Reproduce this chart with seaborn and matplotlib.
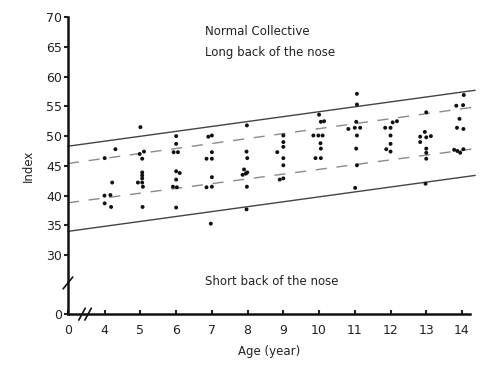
import numpy as np
import pandas as pd
import seaborn as sns
import matplotlib.pyplot as plt

# ---------------------------------------------------------------------------
# data (age in years, index value)
age = [4.30, 4.00, 4.21, 3.98, 4.16, 4.00, 4.18,
       5.00, 5.10, 4.98, 5.05, 5.05, 5.05, 5.05, 4.93, 5.05, 5.07, 5.06,
       6.00, 6.00, 5.93, 6.05, 6.00, 6.10, 6.00, 5.91, 6.02, 6.00,
       6.90, 7.00, 7.00, 6.85, 7.00, 7.00, 6.85, 7.00, 6.97,
       7.98, 7.97, 7.99, 7.90, 7.99, 7.86, 7.95, 7.98, 7.97,
       9.00, 9.00, 9.00, 8.83, 9.00, 9.00, 8.90, 9.00,
       10.00, 10.05, 10.14, 9.84, 9.98, 10.10, 10.04, 10.05, 9.90, 10.05,
       11.06, 11.06, 11.04, 10.82, 11.00, 11.15, 11.06, 11.04, 11.06, 11.01,
       12.18, 12.06, 11.85, 12.00, 12.00, 12.00, 11.88, 12.00,
       13.00, 12.96, 12.83, 13.00, 13.13, 12.83, 13.00, 13.00, 13.00, 12.98,
       14.05, 13.84, 14.03, 13.93, 13.86, 14.04, 13.78, 13.87, 13.95, 14.04]
index = [47.8, 46.3, 42.2, 40.0, 40.1, 38.7, 38.1,
         51.5, 47.4, 47.0, 46.2, 43.9, 43.4, 42.9, 42.2, 42.2, 41.5, 38.1,
         50.0, 48.7, 47.3, 47.3, 44.1, 43.8, 42.7, 41.5, 41.4, 38.0,
         49.9, 50.1, 47.3, 46.2, 46.2, 43.1, 41.4, 41.5, 35.3,
         51.8, 47.4, 46.3, 44.4, 43.9, 43.5, 43.7, 41.5, 37.7,
         50.1, 49.0, 48.2, 47.3, 46.3, 45.1, 42.7, 42.9,
         53.6, 52.4, 52.5, 50.1, 50.1, 50.1, 48.8, 47.9, 46.3, 46.3,
         57.1, 55.3, 52.4, 51.2, 51.4, 51.4, 50.1, 47.9, 45.1, 41.3,
         52.5, 52.3, 51.4, 51.4, 50.1, 48.7, 47.8, 47.4,
         54.0, 50.7, 49.9, 49.8, 50.0, 49.0, 47.9, 47.2, 46.2, 42.0,
         56.9, 55.1, 55.2, 52.9, 51.4, 51.2, 47.7, 47.5, 47.2, 47.8]

# boundary lines: value at the y axis and at the right end
line_x = [0, 14.37]
upper_solid = [48.3, 57.7]
upper_dashed = [45.4, 54.9]
lower_dashed = [38.8, 47.9]
lower_solid = [34.0, 43.4]

x_ticks = [0, 4, 5, 6, 7, 8, 9, 10, 11, 12, 13, 14]
y_ticks = [0, 30, 35, 40, 45, 50, 55, 60, 65, 70]

df = pd.DataFrame({"age": age, "index": index})


# ---------------------------------------------------------------------------
# broken axes: 0-4 years and 0-30 index are squeezed together
def x_fwd(x):
    x = np.asarray(x, dtype=float)
    return np.where(x >= 4, x, 4 - (4 - x) * 0.257)


def x_inv(v):
    v = np.asarray(v, dtype=float)
    return np.where(v >= 4, v, 4 - (4 - v) / 0.257)


def y_fwd(y):
    y = np.asarray(y, dtype=float)
    return np.where(y >= 30, y, 30 - (30 - y) * 0.33)


def y_inv(v):
    v = np.asarray(v, dtype=float)
    return np.where(v >= 30, v, 30 - (30 - v) / 0.33)


sns.set_style("ticks")
plt.rcParams['font.family'] = ['DejaVu Sans']

fig = plt.figure(figsize=(4.96, 3.70), dpi=100)
ax = fig.add_axes([0.137, 0.151, 0.811, 0.803])
ax.set_xscale("function", functions=(x_fwd, x_inv))
ax.set_yscale("function", functions=(y_fwd, y_inv))

# boundary lines
for vals, style, col in [(upper_solid, "-", "#444444"), (lower_solid, "-", "#444444"),
                         (upper_dashed, "--", "#8a8a8a"), (lower_dashed, "--", "#8a8a8a")]:
    sns.lineplot(x=line_x, y=vals, ax=ax, color=col, linewidth=1.0, linestyle=style)
for ln in ax.lines:
    ln.set_clip_on(False)
    if ln.get_linestyle() == "--":
        ln.set_dashes((8, 7))

# measurements
sns.scatterplot(data=df, x="age", y="index", ax=ax, color="#111111", s=8,
                edgecolor="none", zorder=3)

ax.set_xlim(0, 14.23)
ax.set_ylim(0, 70)
ax.set_xticks(x_ticks)
ax.set_xticklabels([str(t) for t in x_ticks])
ax.set_yticks(y_ticks)
ax.set_yticklabels([str(t) for t in y_ticks])
ax.minorticks_off()

sns.despine(ax=ax)
for side in ["left", "bottom"]:
    ax.spines[side].set_linewidth(1.8)
    ax.spines[side].set_color("#111111")
ax.tick_params(axis="y", direction="out", length=3, width=1.5, labelsize=9,
               colors="#222222", pad=1)
ax.tick_params(axis="x", direction="in", length=3, width=1.5, labelsize=9,
               colors="#222222", pad=7)

ax.set_xlabel("Age (year)", fontsize=8.5, color="#222222", labelpad=6)
ax.set_ylabel("Index", fontsize=8.5, color="#222222", labelpad=8)

# texts in the chart
ax.text(0.34, 0.952, "Normal Collective", transform=ax.transAxes, fontsize=8.5,
        color="#222222", va="center")
ax.text(0.34, 0.88, "Long back of the nose", transform=ax.transAxes, fontsize=8.5,
        color="#222222", va="center")
ax.text(0.34, 0.11, "Short back of the nose", transform=ax.transAxes, fontsize=8.5,
        color="#222222", va="center")

# axis break marks
ax.plot([-0.012, 0.012], [0.085, 0.125], transform=ax.transAxes, color="#111111",
        linewidth=1.2, clip_on=False)
for x0 in [0.035, 0.05]:
    ax.plot([x0 - 0.008, x0 + 0.008], [-0.02, 0.02], transform=ax.transAxes,
            color="#111111", linewidth=1.2, clip_on=False)

plt.savefig("out.png", dpi=100)
